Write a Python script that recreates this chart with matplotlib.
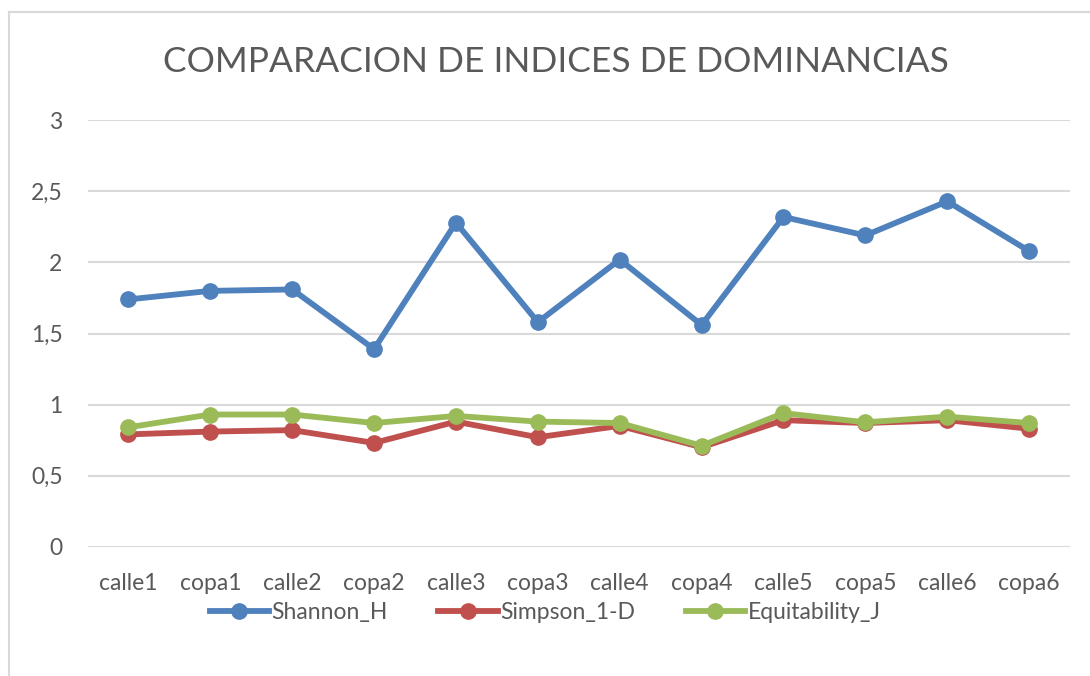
import matplotlib.pyplot as plt
from matplotlib.lines import Line2D

categories = ["calle1", "copa1", "calle2", "copa2", "calle3", "copa3",
              "calle4", "copa4", "calle5", "copa5", "calle6", "copa6"]
shannon_h = [1.74, 1.80, 1.81, 1.39, 2.28, 1.58, 2.02, 1.56, 2.32, 2.19, 2.43, 2.08]
simpson_1d = [0.79, 0.81, 0.82, 0.73, 0.88, 0.77, 0.85, 0.70, 0.89, 0.87, 0.89, 0.83]
equitability_j = [0.84, 0.93, 0.93, 0.87, 0.92, 0.88, 0.87, 0.71, 0.94, 0.875, 0.915, 0.87]

series = [
    ("Shannon_H", shannon_h, "#4F81BD"),
    ("Simpson_1-D", simpson_1d, "#C0504D"),
    ("Equitability_J", equitability_j, "#9BBB59"),
]

plt.rcParams["font.family"] = ["Lato", "DejaVu Sans"]
text_color = "#595959"
grid_color = "#D9D9D9"

fig = plt.figure(figsize=(10.9, 6.76), dpi=100)
ax = fig.add_axes([0.0803, 0.1913, 0.9014, 0.6307])

x = list(range(len(categories)))
for name, vals, color in series:
    ax.plot(x, vals, color=color, lw=4.2, marker="o", markersize=11,
            label=name, solid_capstyle="round", solid_joinstyle="round")

ax.set_xlim(-0.5, len(categories) - 0.5)
ax.set_ylim(0, 3)
ax.set_yticks([0, 0.5, 1, 1.5, 2, 2.5, 3])
ax.set_yticklabels(["0", "0,5", "1", "1,5", "2", "2,5", "3"])
ax.set_xticks(x)
ax.set_xticklabels(categories)
ax.tick_params(axis="both", length=0, labelsize=16.5, colors=text_color)
ax.tick_params(axis="y", pad=18)
ax.tick_params(axis="x", pad=19)
ax.grid(axis="y", color=grid_color, lw=1.5)
ax.set_axisbelow(True)
for s in ax.spines.values():
    s.set_visible(False)

fig.text(0.51, 0.908, "COMPARACION DE INDICES DE DOMINANCIAS",
         ha="center", va="center", fontsize=25.5, color=text_color)

handles = [Line2D([0], [0], color=c, lw=4.2, marker="o", markersize=11)
           for _, _, c in series]
fig.legend(handles, [n for n, _, _ in series], loc="center",
           bbox_to_anchor=(0.5, 0.094), ncol=3, frameon=False,
           fontsize=16.5, labelcolor=text_color, handlelength=2.6,
           handletextpad=0.1, columnspacing=2.2)

# chart border (cropped on right and bottom)
fig.add_artist(Line2D([0.00826, 0.00826], [0, 0.9822], color=grid_color,
                      lw=1.5, transform=fig.transFigure))
fig.add_artist(Line2D([0.00826, 1], [0.9822, 0.9822], color=grid_color,
                      lw=1.5, transform=fig.transFigure))

fig.savefig("out.png", dpi=100)
